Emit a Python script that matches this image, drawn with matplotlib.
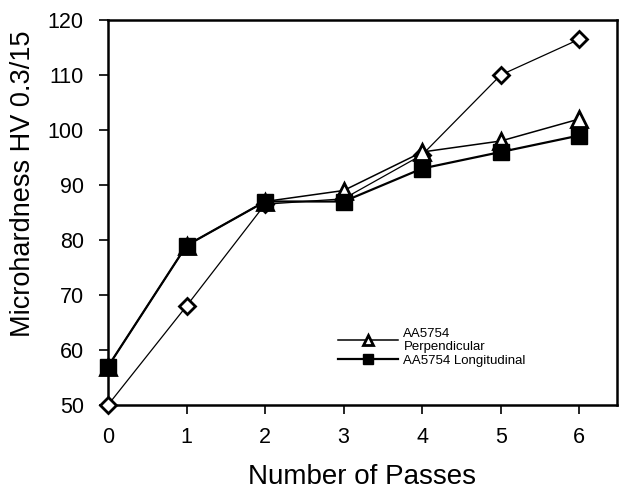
import numpy as np
from matplotlib import pyplot as plt

plt.rcParams['font.family'] = ['Liberation Sans', 'DejaVu Sans']

passes        = [0, 1, 2, 3, 4, 5, 6]
hv_unlabelled = [50, 68, 86.5, 87.5, 95.5, 110, 116.5]
hv_perp       = [57, 79, 87, 89, 96, 98, 102]
hv_long       = [57, 79, 87, 87, 93, 96, 99]

fig = plt.figure(figsize=(6.19, 4.95), dpi=100)
ax = fig.add_axes([108 / 619, 1 - 405 / 495, (617 - 108) / 619, (405 - 20) / 495])

ax.plot(passes, hv_unlabelled, c='k', lw=0.9, marker='D', ms=8, mfc='white',
        mec='k', mew=2.0, clip_on=False, zorder=3)
ax.plot(passes, hv_perp, c='k', lw=1.1, marker='^', ms=11, mfc='white',
        mec='k', mew=2.0, clip_on=False, zorder=4, label='AA5754\nPerpendicular')
ax.plot(passes, hv_long, c='k', lw=1.6, marker='s', ms=11, mfc='k',
        mec='k', clip_on=False, zorder=5, label='AA5754 Longitudinal')

ax.set_xlim(0, 6.48)
ax.set_ylim(50, 120)
ax.set_xticks(passes)
ax.set_yticks(np.arange(50, 121, 10))
ax.tick_params(direction='out', length=6.5, width=1.2, labelsize=15.5)
ax.tick_params(axis='y', pad=11)
ax.tick_params(axis='x', pad=9)
for s in ax.spines.values():
    s.set_linewidth(1.8)

ax.set_xlabel('Number of Passes', fontsize=20, labelpad=12)
ax.set_ylabel('Microhardness HV 0.3/15', fontsize=19.5, labelpad=2)
ax.yaxis.set_label_coords(-0.142, 0.575)

ax.legend(loc='lower left', bbox_to_anchor=(0.434, 0.075), frameon=False,
          fontsize=9.5, handlelength=4.5, handletextpad=0.45, labelspacing=0.1,
          markerscale=0.65, borderpad=0.2)

plt.savefig('out.png', dpi=100)
